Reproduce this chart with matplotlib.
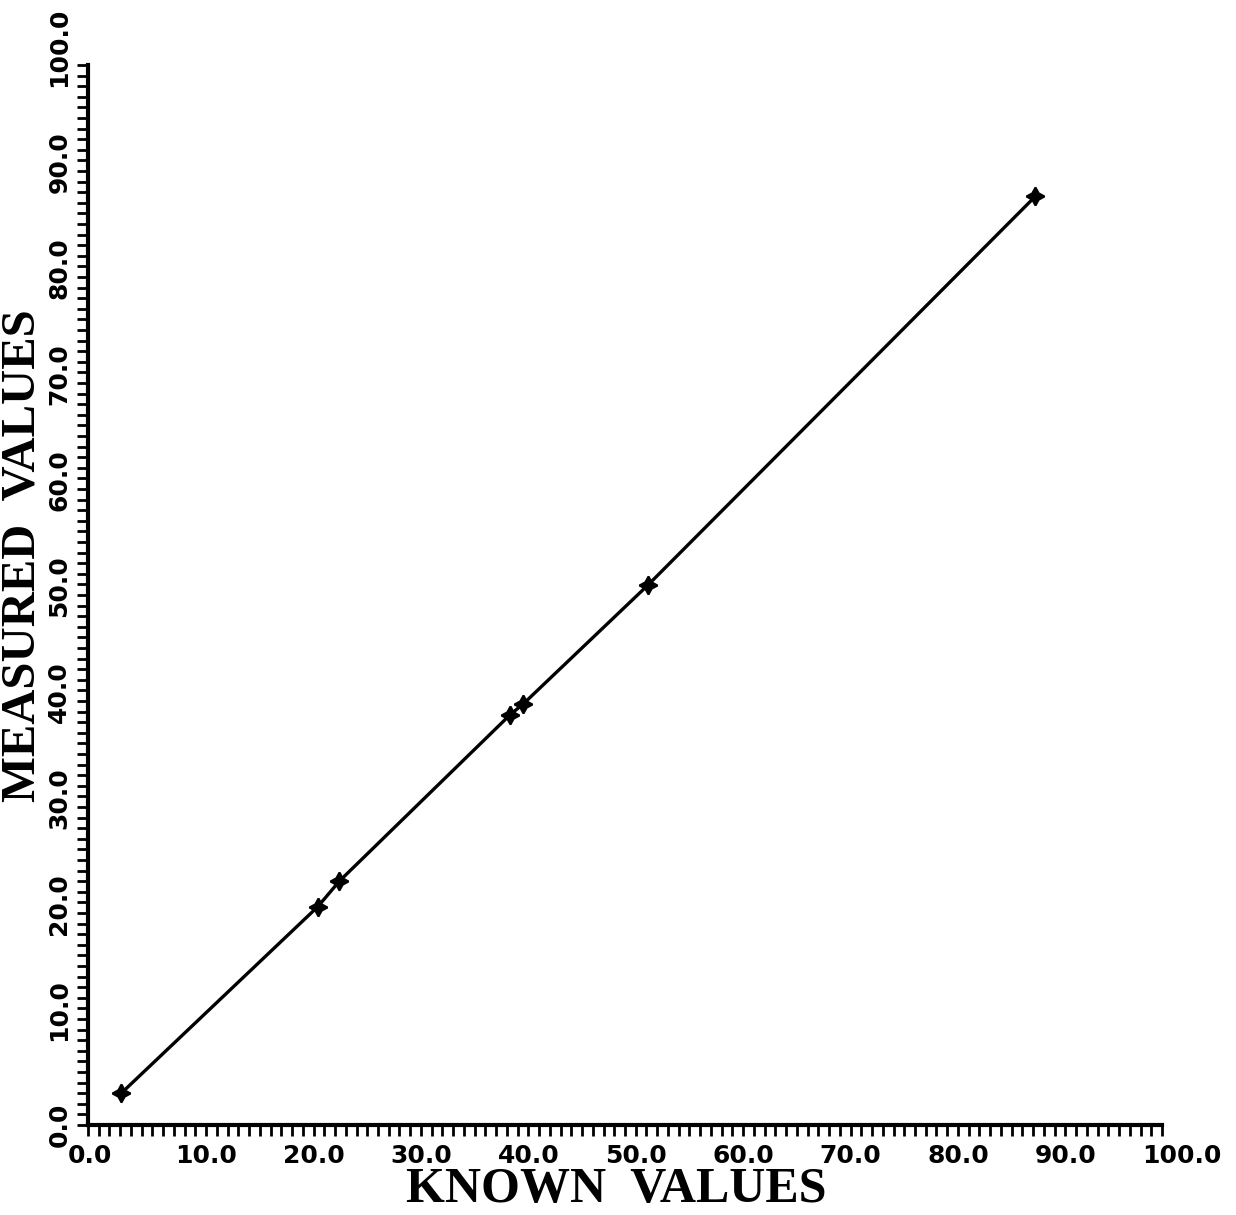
import matplotlib
matplotlib.use("Agg")
import matplotlib.pyplot as plt
from matplotlib.ticker import MultipleLocator, FixedLocator
from matplotlib.transforms import ScaledTranslation

known = [3.1, 21.4, 23.4, 39.3, 40.5, 52.1, 88.2]
measured = [3.0, 20.6, 23.0, 38.7, 39.7, 50.9, 87.6]
tick_vals = [0, 10, 20, 30, 40, 50, 60, 70, 80, 90, 100]
tick_labels = ["0.0", "10.0", "20.0", "30.0", "40.0", "50.0", "60.0", "70.0", "80.0", "90.0", "100.0"]

W, H = 1236, 1215
fig = plt.figure(figsize=(W / 100, H / 100), dpi=100)
ax = fig.add_axes([88 / W, 1 - 1125 / H, (1162 - 88) / W, (1125 - 65) / H])

ax.plot(known, measured, color="black", lw=2.4, marker=(4, 1, 0), ms=13, mew=1.5)

ax.set_xlim(0, 100)
ax.set_ylim(0, 100)
for s in ["top", "right"]:
    ax.spines[s].set_visible(False)
for s in ["left", "bottom"]:
    ax.spines[s].set_linewidth(3)

ax.xaxis.set_major_locator(FixedLocator(tick_vals))
ax.yaxis.set_major_locator(FixedLocator(tick_vals))
ax.xaxis.set_minor_locator(MultipleLocator(1))
ax.yaxis.set_minor_locator(MultipleLocator(1))
ax.set_xticklabels(tick_labels, fontsize=18, fontweight="bold", family="DejaVu Sans", ha="left")
ax.set_yticklabels(tick_labels, fontsize=18, fontweight="bold", family="DejaVu Sans",
                   rotation=90, va="bottom")
ax.tick_params(which="both", direction="out", length=8, width=2)
ax.tick_params(axis="x", which="major", pad=6)
ax.tick_params(axis="y", which="major", pad=4)

for lab in ax.get_xticklabels():
    lab.set_transform(lab.get_transform() + ScaledTranslation(-0.20, 0, fig.dpi_scale_trans))
for lab in ax.get_yticklabels():
    lab.set_transform(lab.get_transform() + ScaledTranslation(0, -0.22, fig.dpi_scale_trans))

fig.text(616 / W, 1 - 1190 / H, "KNOWN  VALUES", fontsize=36, fontweight="bold",
         family="Liberation Serif", ha="center", va="center")
fig.text(23 / W, 1 - 556 / H, "MEASURED  VALUES", fontsize=35, fontweight="bold",
         family="Liberation Serif", ha="center", va="center", rotation=90)

fig.savefig("out.png", dpi=100, facecolor="white")
